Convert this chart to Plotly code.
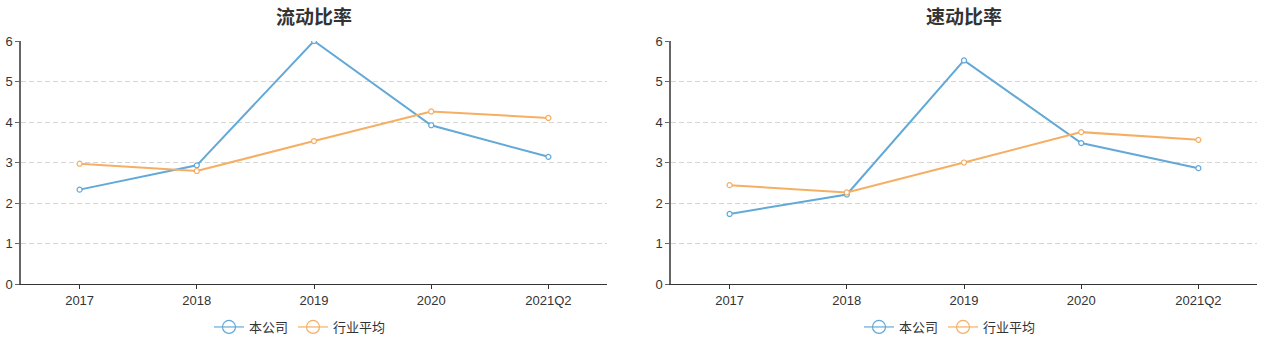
import plotly.graph_objects as go

categories = ["2017", "2018", "2019", "2020", "2021Q2"]
current_company = [2.33, 2.93, 6.00, 3.92, 3.14]
current_industry = [2.97, 2.79, 3.53, 4.26, 4.10]
quick_company = [1.73, 2.21, 5.52, 3.48, 2.86]
quick_industry = [2.44, 2.26, 3.00, 3.75, 3.56]
titles = ["流动比率", "速动比率"]
series_names = ["本公司", "行业平均"]
y_ticks = [0, 1, 2, 3, 4, 5, 6]

BLUE = "#62a9d7"
ORANGE = "#f6ae63"
W, H = 1267, 342
FONT = "Liberation Sans, Arial, Noto Sans CJK SC, sans-serif"

fig = go.Figure()

panels = [
    (current_company, current_industry, "x", "y", "legend", (21, 607), 300),
    (quick_company, quick_industry, "x2", "y2", "legend2", (671, 1257), 950),
]

y_bottom = (H - 284) / H
y_top = (H - 41) / H

layout = dict(
    width=W, height=H,
    margin=dict(l=0, r=0, t=0, b=0, autoexpand=False),
    paper_bgcolor="white", plot_bgcolor="white",
    font=dict(family=FONT, size=13, color="#333"),
    annotations=[],
)

for i, (comp, ind, xa, ya, lg, (x0, x1), lgx) in enumerate(panels):
    for vals, name, color in [(comp, series_names[0], BLUE), (ind, series_names[1], ORANGE)]:
        fig.add_trace(go.Scatter(
            x=categories, y=vals, xaxis=xa, yaxis=ya, mode="lines+markers",
            line=dict(color=color, width=2),
            marker=dict(symbol="circle", size=5, color="white", line=dict(color=color, width=1.2)),
            showlegend=False, hoverinfo="x+y", name=name,
        ))
    for name, color in [(series_names[0], BLUE), (series_names[1], ORANGE)]:
        fig.add_trace(go.Scatter(
            x=[None], y=[None], xaxis=xa, yaxis=ya, mode="lines+markers", name=name,
            line=dict(color=color, width=1.2),
            marker=dict(symbol="circle-open", size=13, color=color, line=dict(width=1.2)),
            showlegend=True, legend=lg,
        ))
    sfx = "" if i == 0 else str(i + 1)
    layout["xaxis" + sfx] = dict(
        domain=[x0 / W, x1 / W], anchor="y" + sfx, type="category",
        range=[-0.5, 4.5], showgrid=False, zeroline=False,
        showline=True, linecolor="#333", linewidth=1,
        ticks="outside", ticklen=4, tickcolor="#333",
        tickfont=dict(size=13, color="#333"), fixedrange=True,
    )
    layout["yaxis" + sfx] = dict(
        domain=[y_bottom, y_top], anchor="x" + sfx, range=[0, 6],
        tickvals=y_ticks, showgrid=True, gridcolor="#d5d5d5", griddash="5px,3px", gridwidth=1,
        zeroline=False, showline=True, linecolor="#666", linewidth=1.5,
        ticks="outside", ticklen=4, tickcolor="#666",
        tickfont=dict(size=13, color="#333"), fixedrange=True,
    )
    cx = (x0 + x1) / 2 / W
    layout[lg] = dict(
        orientation="h", x=lgx / W, xanchor="center", y=(H - 327) / H, yanchor="middle",
        font=dict(size=13, color="#333"), bgcolor="rgba(0,0,0,0)",
        itemwidth=30, tracegroupgap=0,
    )
    layout["annotations"].append(dict(
        text="<b>" + titles[i] + "</b>", x=cx, y=(H - 15) / H, xref="paper", yref="paper",
        xanchor="center", yanchor="middle", showarrow=False,
        font=dict(size=19, color="#333", family="Noto Sans CJK SC, sans-serif"),
    ))

fig.update_layout(**layout)
fig.write_html("out.html", config={"displayModeBar": False})
